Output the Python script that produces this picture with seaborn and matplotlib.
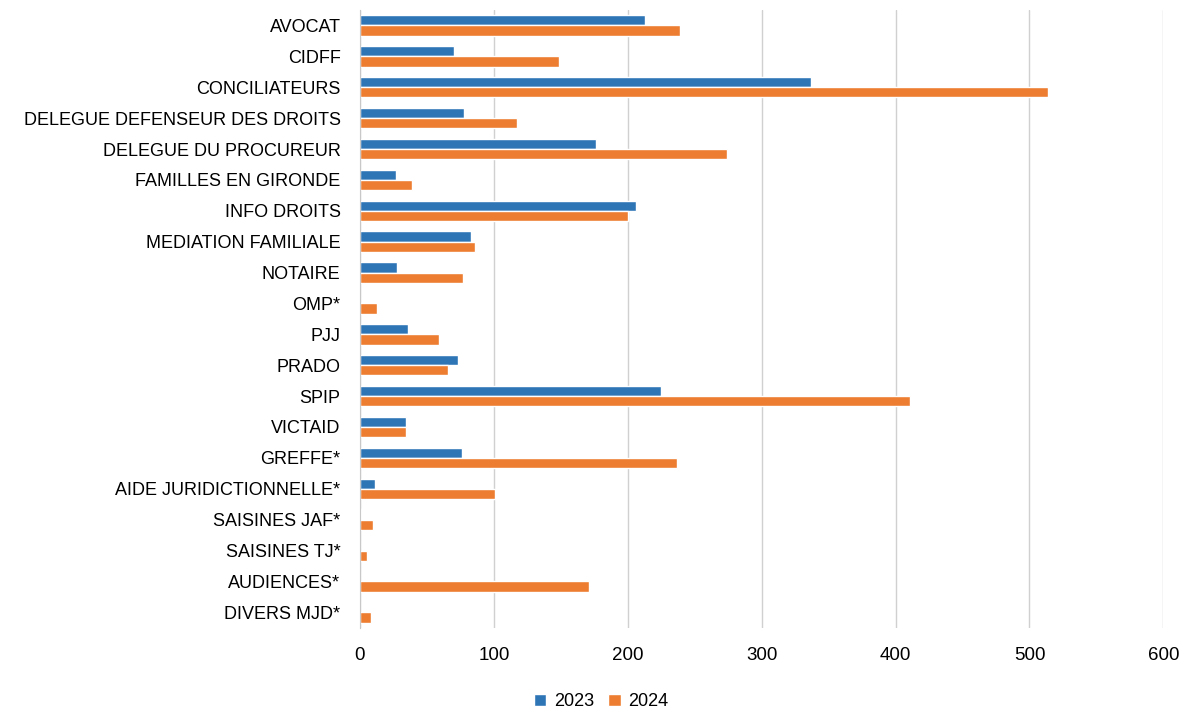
import pandas as pd
import seaborn as sns
import matplotlib.pyplot as plt

# categories and yearly counts
categories = ["AVOCAT", "CIDFF", "CONCILIATEURS", "DELEGUE DEFENSEUR DES DROITS",
              "DELEGUE DU PROCUREUR", "FAMILLES EN GIRONDE", "INFO DROITS",
              "MEDIATION FAMILIALE", "NOTAIRE", "OMP*", "PJJ", "PRADO", "SPIP",
              "VICTAID", "GREFFE*", "AIDE JURIDICTIONNELLE*", "SAISINES JAF*",
              "SAISINES TJ*", "AUDIENCES*", "DIVERS MJD*"]
values_2023 = [213, 70, 337, 78, 176, 27, 206, 83, 28, 0, 36, 73, 225, 34, 76, 11, 1, 0, 0, 0]
values_2024 = [239, 149, 514, 117, 274, 39, 200, 86, 77, 13, 59, 66, 411, 34, 237, 101, 10, 5, 171, 8]
years = ["2023", "2024"]

df = pd.DataFrame({
    "categorie": categories * 2,
    "valeur": values_2023 + values_2024,
    "annee": [years[0]] * len(categories) + [years[1]] * len(categories),
})

sns.set_style("white")
plt.rcParams['font.family'] = ['Liberation Sans', 'DejaVu Sans']

fig, ax = plt.subplots(figsize=(11.92, 7.15), dpi=100)
fig.subplots_adjust(left=0.302, right=0.976, top=0.986, bottom=0.122)

sns.barplot(data=df, y="categorie", x="valeur", hue="annee", orient="h",
            palette=["#2E75B6", "#ED7D31"], width=0.66, saturation=1,
            dodge=True, ax=ax)

ax.set_xlim(0, 600)
ax.set_xticks(range(0, 601, 100))
ax.grid(axis="x", color="#d0d0d0", linewidth=1)
ax.set_axisbelow(True)
for s in ["top", "right", "bottom"]:
    ax.spines[s].set_visible(False)
ax.spines["left"].set_color("#c8c8c8")
ax.set_xlabel("")
ax.set_ylabel("")
ax.tick_params(axis="y", labelsize=13, length=0, pad=14, labelcolor="black")
ax.tick_params(axis="x", labelsize=13.5, length=0, pad=14, labelcolor="black")

ax.legend(loc="upper center", bbox_to_anchor=(0.3, -0.08), ncol=2, frameon=False,
          fontsize=13, handlelength=0.7, handleheight=0.7, columnspacing=0.8,
          handletextpad=0.4, labelcolor="black")

plt.savefig("out.png")
